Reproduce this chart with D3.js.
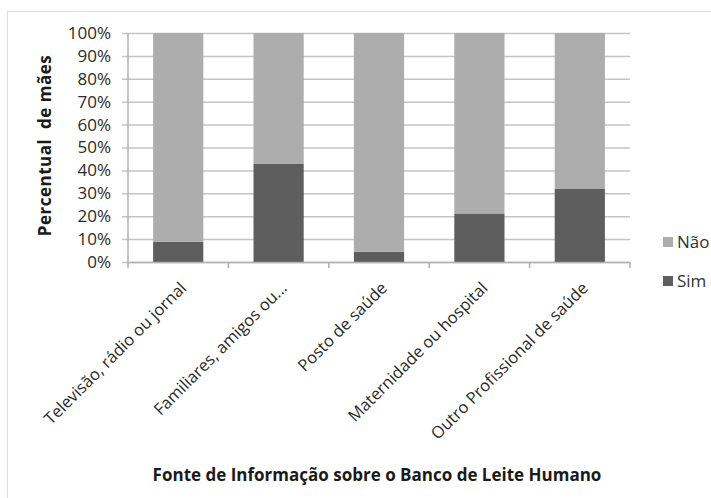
<!DOCTYPE html>
<html lang="pt-BR">
<head>
    <meta charset="UTF-8">
    <title>Fonte de Informação sobre o Banco de Leite Humano</title>
    <script src="https://d3js.org/d3.v7.min.js"></script>
    <style>
        body { margin: 0; background: #fff; }
        svg, svg g { font-family: "Open Sans", "Noto Sans", sans-serif; }
        svg { display: block; }
        .tick text { fill: #2a2a2a; }
    </style>
</head>
<body>
    <div id="chart"></div>

    <script>
        // dados (percentual de mães)
        const categories = [
            "Televisão, rádio ou jornal",
            "Familiares, amigos ou...",
            "Posto de saúde",
            "Maternidade ou hospital",
            "Outro Profissional de saúde"
        ];
        const seriesNames = ["Sim", "Não"];
        const sim = [8.8, 43.0, 4.4, 21.2, 32.1];
        const nao = [91.2, 57.0, 95.6, 78.8, 67.9];
        const yTicks = [0, 10, 20, 30, 40, 50, 60, 70, 80, 90, 100];
        const colors = { "Sim": "#5e5e5e", "Não": "#adadad" };

        const width = 711, height = 498;
        const plot = { left: 128, right: 630, top: 33, bottom: 262 };
        const fontFamily = '"Open Sans", "Noto Sans", sans-serif';

        const svg = d3.select("#chart")
            .append("svg")
            .attr("width", width)
            .attr("height", height);

        // moldura clara do gráfico
        svg.append("rect")
            .attr("x", 7.5).attr("y", 11.5)
            .attr("width", 720).attr("height", 500)
            .attr("fill", "none")
            .attr("stroke", "#dcdcdc");

        const rows = categories.map((c, i) => ({ cat: c, "Sim": sim[i], "Não": nao[i] }));
        const stacked = d3.stack().keys(seriesNames)(rows);

        const x = d3.scaleBand()
            .domain(categories)
            .range([plot.left, plot.right])
            .paddingInner(0.5)
            .paddingOuter(0.25);

        const y = d3.scaleLinear()
            .domain([0, 100])
            .range([plot.bottom, plot.top]);

        // linhas de grade + eixo y
        const yAxis = svg.append("g")
            .attr("transform", `translate(${plot.left},0)`)
            .call(d3.axisLeft(y)
                .tickValues(yTicks)
                .tickSize(-(plot.right - plot.left))
                .tickFormat(d => d + "%"))
            .attr("font-family", fontFamily);
        yAxis.select(".domain").remove();
        yAxis.selectAll(".tick line")
            .attr("x1", -6)
            .attr("stroke", "#c4c4c4")
            .attr("stroke-width", 1.5);
        yAxis.selectAll(".tick text")
            .attr("x", -17)
            .attr("font-size", 17);

        svg.append("line")
            .attr("x1", plot.left).attr("x2", plot.left)
            .attr("y1", plot.top).attr("y2", plot.bottom)
            .attr("stroke", "#b0b0b0")
            .attr("stroke-width", 1.5);

        // barras empilhadas
        svg.append("g")
            .selectAll("g")
            .data(stacked)
            .enter().append("g")
            .attr("fill", d => colors[d.key])
            .selectAll("rect")
            .data(d => d)
            .enter().append("rect")
            .attr("x", d => x(d.data.cat))
            .attr("width", x.bandwidth())
            .attr("y", d => y(d[1]))
            .attr("height", d => y(d[0]) - y(d[1]));

        // eixo x
        const xAxis = svg.append("g")
            .attr("transform", `translate(0,${plot.bottom})`)
            .call(d3.axisBottom(x).tickSize(0).tickSizeOuter(0))
            .attr("font-family", fontFamily);
        xAxis.select(".domain")
            .attr("stroke", "#b0b0b0")
            .attr("stroke-width", 1.5);

        // marcas entre as categorias
        const bounds = d3.range(categories.length + 1).map(i => plot.left + i * (plot.right - plot.left) / categories.length);
        svg.append("g")
            .selectAll("line")
            .data(bounds)
            .enter().append("line")
            .attr("x1", d => d).attr("x2", d => d)
            .attr("y1", plot.bottom).attr("y2", plot.bottom + 6)
            .attr("stroke", "#b0b0b0")
            .attr("stroke-width", 1.5);

        xAxis.selectAll(".tick text")
            .attr("font-size", 16.5)
            .attr("text-anchor", "end")
            .attr("x", 0).attr("y", 0)
            .attr("dy", "0.7em")
            .attr("transform", "translate(1,19) rotate(-45)");

        // títulos dos eixos
        svg.append("text")
            .attr("transform", `translate(51,${(plot.top + plot.bottom) / 2 - 2}) rotate(-90)`)
            .attr("text-anchor", "middle")
            .attr("font-size", 17)
            .attr("letter-spacing", 0.5)
            .attr("font-weight", "bold")
            .attr("fill", "#1a1a1a")
            .attr("xml:space", "preserve")
            .text("Percentual  de mães");

        svg.append("text")
            .attr("x", 377)
            .attr("y", 481)
            .attr("text-anchor", "middle")
            .attr("font-size", 17)
            .attr("font-weight", "bold")
            .attr("fill", "#1a1a1a")
            .text("Fonte de Informação sobre o Banco de Leite Humano");

        // legenda
        const legendItems = [
            { key: "Não", y: 242 },
            { key: "Sim", y: 281 }
        ];
        const legend = svg.append("g")
            .selectAll("g")
            .data(legendItems)
            .enter().append("g")
            .attr("transform", d => `translate(663,${d.y})`);
        legend.append("rect")
            .attr("x", 0).attr("y", -5)
            .attr("width", 10).attr("height", 10)
            .attr("fill", d => colors[d.key]);
        legend.append("text")
            .attr("x", 14)
            .attr("dy", "0.35em")
            .attr("font-size", 17)
            .attr("fill", "#333")
            .text(d => d.key);
    </script>
</body>
</html>
